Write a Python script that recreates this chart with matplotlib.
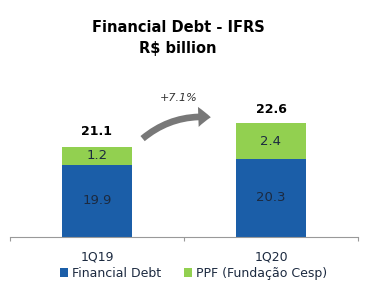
import numpy as np
import matplotlib
matplotlib.use("Agg")
import matplotlib.pyplot as plt
from matplotlib.patches import FancyArrowPatch

categories = ["1Q19", "1Q20"]
financial_debt = [19.9, 20.3]
ppf = [1.2, 2.4]
totals = [21.1, 22.6]
growth_label = "+7.1%"

C_BLUE = "#1b5ea8"
C_GREEN = "#92d050"
C_TXT = "#1c2a40"

fig = plt.figure(figsize=(3.65, 3.01), dpi=100)
ax = fig.add_axes([0.0274, 0.2126, 0.9534, 0.588])

x = np.arange(len(categories))
w = 0.4
ax.bar(x, financial_debt, w, color=C_BLUE, label="Financial Debt")
ax.bar(x, ppf, w, bottom=financial_debt, color=C_GREEN, label="PPF (Fundação Cesp)")

ax.set_xlim(-0.5, 1.5)
ax.set_ylim(15, 27)

for i in range(len(categories)):
    ax.text(x[i], (15 + financial_debt[i]) / 2, f"{financial_debt[i]:.1f}",
            ha="center", va="center", fontsize=9.5, color=C_TXT)
    ax.text(x[i], financial_debt[i] + ppf[i] / 2, f"{ppf[i]:.1f}",
            ha="center", va="center", fontsize=9.5, color=C_TXT)
    ax.text(x[i], totals[i] + 1.05, f"{totals[i]:.1f}", ha="center", va="center",
            fontsize=9, fontweight="bold", color="black")

# growth arrow between the bars
arr = FancyArrowPatch((x[0] + 0.25, totals[0] + 0.45), (x[1] - 0.33, totals[1] + 0.5),
                      connectionstyle="arc3,rad=-0.22",
                      arrowstyle="simple,head_length=0.75,head_width=1.2,tail_width=0.4",
                      mutation_scale=12, color="#787878", lw=0)
ax.add_patch(arr)
ax.text(0.47, totals[1] + 1.8, growth_label, ha="center", va="center",
        fontsize=8, style="italic", color="#333333")

ax.set_xticks([-0.5, 0.5, 1.5])
ax.set_xticklabels([])
ax.tick_params(axis="x", length=3, color="#999999", direction="out")
ax.set_xticks(x, minor=True)
ax.set_xticklabels(categories, minor=True, fontsize=9, color=C_TXT)
ax.tick_params(axis="x", which="minor", length=0, pad=10)
ax.set_yticks([])
ax.spines[["top", "right", "left"]].set_visible(False)
ax.spines["bottom"].set_color("#999999")

fig.text(0.488, 0.91, "Financial Debt - IFRS", ha="center", va="center",
         fontsize=10.5, fontweight="bold")
fig.text(0.488, 0.84, "R$ billion", ha="center", va="center",
         fontsize=10.5, fontweight="bold")

fig.legend(loc="center", bbox_to_anchor=(0.53, 0.093), ncol=2, frameon=False,
           fontsize=9, handlelength=0.7, handleheight=0.7, handletextpad=0.3,
           columnspacing=1.8, labelcolor=C_TXT)

fig.savefig("out.png", dpi=100)
